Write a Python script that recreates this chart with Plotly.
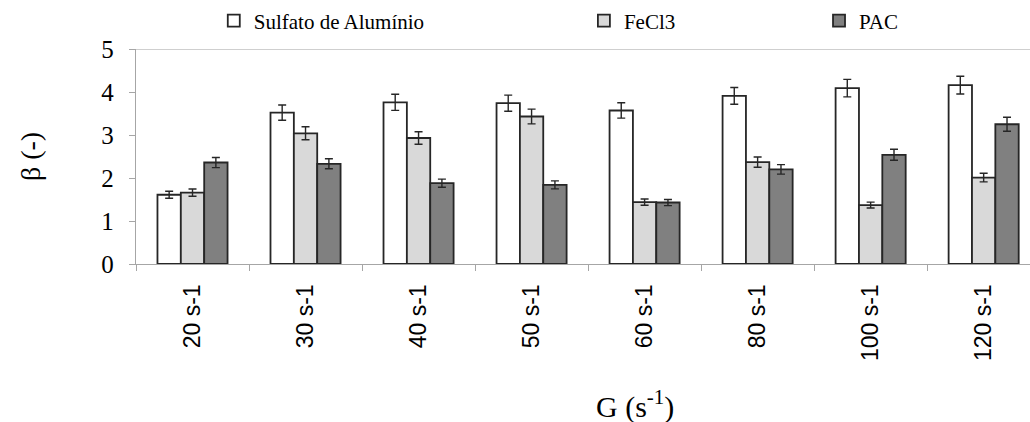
import plotly.graph_objects as go

categories = ["20 s-1", "30 s-1", "40 s-1", "50 s-1", "60 s-1", "80 s-1", "100 s-1", "120 s-1"]
sulfato = [1.61, 3.52, 3.76, 3.74, 3.57, 3.91, 4.09, 4.16]
fecl3 = [1.66, 3.04, 2.93, 3.43, 1.44, 2.37, 1.37, 2.01]
pac = [2.36, 2.33, 1.88, 1.84, 1.43, 2.20, 2.54, 3.25]
error_percent = 5

series = [
    ("Sulfato de Alumínio", sulfato, "#ffffff", "legend"),
    ("FeCl3", fecl3, "#d9d9d9", "legend2"),
    ("PAC", pac, "#808080", "legend3"),
]

fig = go.Figure()
for name, vals, color, lg in series:
    fig.add_trace(go.Bar(
        x=categories, y=vals, name=name, legend=lg,
        marker=dict(color=color, line=dict(color="#262626", width=1.8)),
        error_y=dict(type="percent", value=error_percent, color="#262626", thickness=1.4, width=4),
    ))

serif = "Liberation Serif"
legend_common = dict(orientation="h", yanchor="middle", y=1.13, xanchor="left",
                     font=dict(family=serif, size=21, color="#000"),
                     itemwidth=30, bgcolor="rgba(0,0,0,0)", tracegroupgap=0)

fig.update_layout(
    width=1030, height=422,
    margin=dict(l=136, r=0, t=47, b=158),
    paper_bgcolor="white", plot_bgcolor="white",
    barmode="group", bargap=0.38, bargroupgap=0,
    legend=dict(x=0.087, **legend_common),
    legend2=dict(x=0.501, **legend_common),
    legend3=dict(x=0.764, **legend_common),
    xaxis=dict(
        range=[-0.5, 7.41], tickangle=-90, tickson="boundaries",
        ticks="outside", ticklen=6, tickcolor="#a6a6a6",
        showline=True, linecolor="#a6a6a6", linewidth=1.3,
        ticklabelstandoff=10,
        tickfont=dict(family="Liberation Sans", size=23, color="#000"),
    ),
    yaxis=dict(
        range=[0, 5], dtick=1, showgrid=False, zeroline=False,
        ticks="outside", ticklen=6, tickcolor="#a6a6a6",
        showline=True, linecolor="#a6a6a6", linewidth=1.3,
        ticklabelstandoff=10,
        tickfont=dict(family=serif, size=25, color="#000"),
        title=dict(text="β (-)", font=dict(family=serif, size=28, color="#000"), standoff=52),
    ),
    showlegend=True,
)
fig.add_annotation(text="G (s<sup>-1</sup>)", xref="paper", yref="paper",
                   x=0.558, y=-0.655, xanchor="center", yanchor="middle", showarrow=False,
                   font=dict(family=serif, size=30, color="#000"))
fig.add_shape(type="line", xref="paper", yref="y", x0=0, x1=1, y0=5, y1=5,
              line=dict(color="#bfbfbf", width=1.5))

fig.write_html("out.html")
